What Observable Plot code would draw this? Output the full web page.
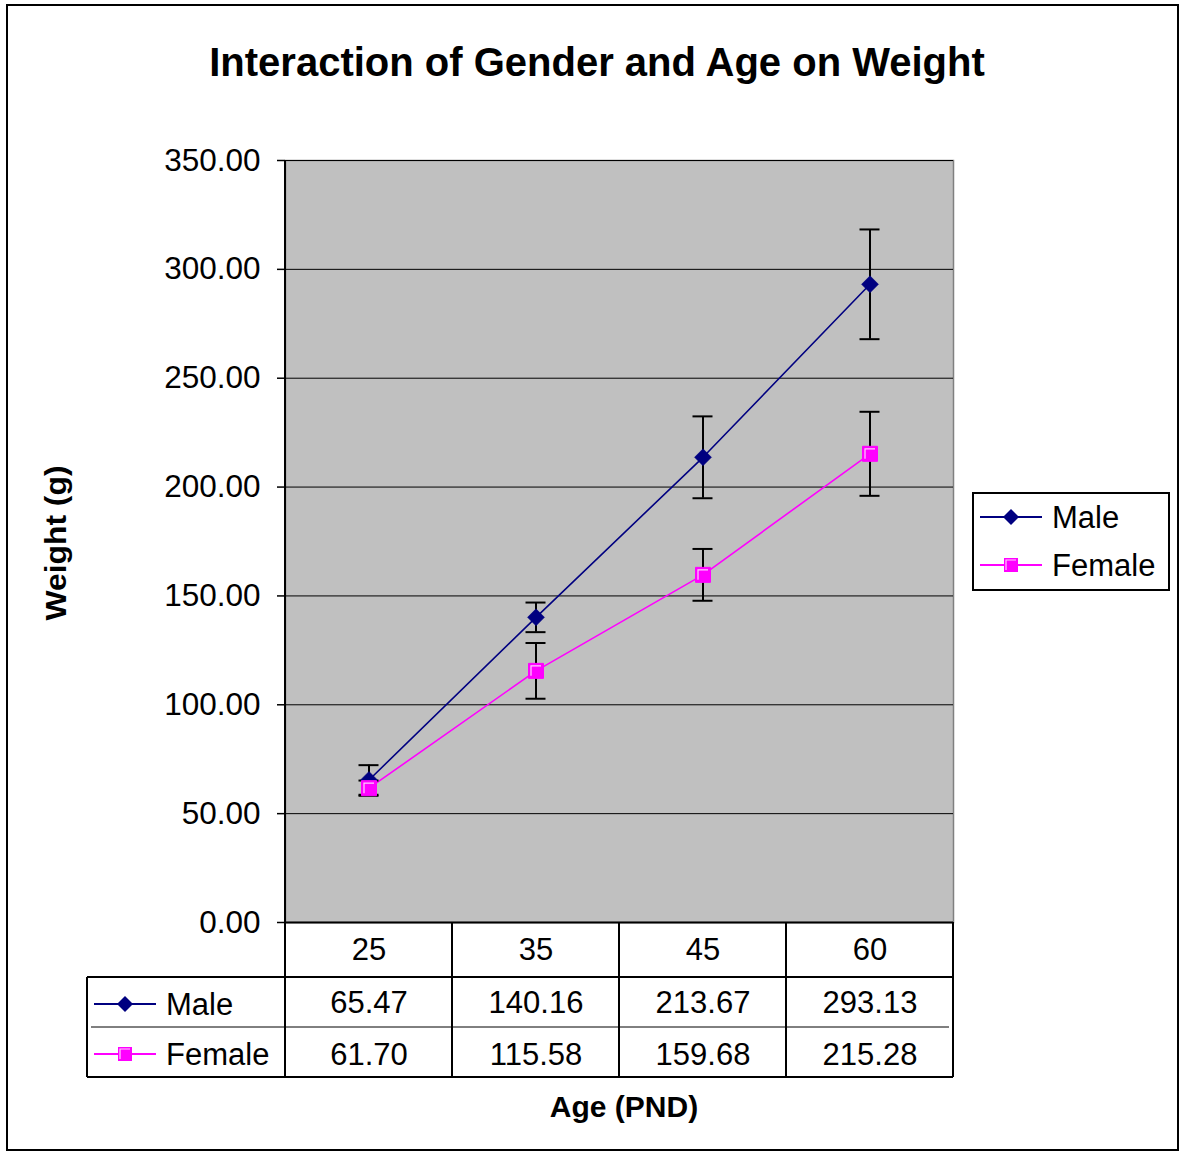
<!DOCTYPE html>
<html>
<head>
<meta charset="utf-8">
<script src="https://cdn.jsdelivr.net/npm/d3@7"></script>
<script src="https://cdn.jsdelivr.net/npm/@observablehq/plot@0.6"></script>
<style>
  html, body { margin: 0; padding: 0; background: #fff; }
  #chart svg { display: block; }
</style>
</head>
<body>
<div id="chart"></div>
<script>
// ---- data ----
const ages = ["25", "35", "45", "60"];
const seriesNames = ["Male", "Female"];
const maleMean = [65.47, 140.16, 213.67, 293.13];
const femaleMean = [61.70, 115.58, 159.68, 215.28];
const maleErr = [6.8, 6.8, 18.8, 25.2];
const femaleErr = [3.5, 12.8, 11.9, 19.3];
const yTicks = [0, 50, 100, 150, 200, 250, 300, 350];
const titleText = "Interaction of Gender and Age on Weight";
const xTitle = "Age (PND)";
const yTitle = "Weight (g)";

const colors = { Male: "#000080", Female: "#FF00FF" };
const FONT = "'Liberation Sans', Arial, sans-serif";

const rows = [];
ages.forEach((a, i) => {
  rows.push({ age: a, series: "Male", value: maleMean[i], err: maleErr[i] });
});
ages.forEach((a, i) => {
  rows.push({ age: a, series: "Female", value: femaleMean[i], err: femaleErr[i] });
});
const male = rows.filter(d => d.series === "Male");
const female = rows.filter(d => d.series === "Female");

// custom symbols (Plot passes size = PI * r^2)
const diamond = { draw(ctx, size) { const r = Math.sqrt(size / Math.PI);
  ctx.moveTo(0, -r); ctx.lineTo(r, 0); ctx.lineTo(0, r); ctx.lineTo(-r, 0); ctx.closePath(); } };
const square = { draw(ctx, size) { const r = Math.sqrt(size / Math.PI);
  ctx.moveTo(-r, -r); ctx.lineTo(r, -r); ctx.lineTo(r, r); ctx.lineTo(-r, r); ctx.closePath(); } };
const hilite = { draw(ctx, size) { const r = Math.sqrt(size / Math.PI);
  ctx.moveTo(-r + 2.5, r - 2.5); ctx.lineTo(-r + 2.5, -r + 2.5); ctx.lineTo(r - 2.5, -r + 2.5); } };

const W = 1181, H = 1153;
const plot = Plot.plot({
  width: W, height: H,
  marginLeft: 285, marginRight: 228, marginTop: 160, marginBottom: 231,
  style: { fontFamily: FONT, fontSize: "31px", color: "black", background: "white", overflow: "visible" },
  x: { type: "band", domain: ages, padding: 0, axis: null },
  y: { domain: [0, 350], axis: null },
  color: { domain: seriesNames, range: seriesNames.map(s => colors[s]) },
  marks: [
    Plot.frame({ fill: "#C0C0C0", stroke: "#808080", strokeWidth: 1.5 }),
    Plot.ruleY(yTicks.filter(t => t > 0), { stroke: "black", strokeWidth: 1 }),
    Plot.ruleY([0], { stroke: "black", strokeWidth: 2 }),
    Plot.axisY({ ticks: yTicks, tickFormat: d => d.toFixed(2), tickSize: 8, tickPadding: 17,
      stroke: "black", strokeWidth: 1.5, label: null, fontSize: 31.5, fill: "black" }),
    Plot.line(male, { x: "age", y: "value", stroke: colors.Male, strokeWidth: 1.6 }),
    Plot.line(female, { x: "age", y: "value", stroke: colors.Female, strokeWidth: 1.6 }),
    // error bars
    Plot.ruleX(rows, { x: "age", y1: d => d.value - d.err, y2: d => d.value + d.err, stroke: "black", strokeWidth: 2 }),
    Plot.tickY(rows, { x: "age", y: d => d.value + d.err, stroke: "black", strokeWidth: 2, insetLeft: 73.5, insetRight: 73.5 }),
    Plot.tickY(rows, { x: "age", y: d => d.value - d.err, stroke: "black", strokeWidth: 2, insetLeft: 73.5, insetRight: 73.5 }),
    // markers
    Plot.dot(male, { x: "age", y: "value", symbol: diamond, r: 8.5, fill: colors.Male, stroke: colors.Male, strokeWidth: 0.5 }),
    Plot.dot(female, { x: "age", y: "value", symbol: square, r: 7.5, fill: colors.Female, stroke: colors.Female, strokeWidth: 1 }),
    Plot.dot(female, { x: "age", y: "value", symbol: hilite, r: 7.5, fill: "none", stroke: "#FFD0FF", strokeWidth: 1.2 }),
    // data table text
    Plot.text(ages, { x: d => d, frameAnchor: "bottom", lineAnchor: "middle", dy: 28, text: d => d, fill: "black", fontSize: 31 }),
    Plot.text(male, { x: "age", frameAnchor: "bottom", lineAnchor: "middle", dy: 81, text: d => d.value.toFixed(2), fill: "black", fontSize: 31 }),
    Plot.text(female, { x: "age", frameAnchor: "bottom", lineAnchor: "middle", dy: 133, text: d => d.value.toFixed(2), fill: "black", fontSize: 31 })
  ]
});

document.getElementById("chart").appendChild(plot);

// ---- extras drawn with d3 using Plot's scales ----
const svg = d3.select(plot);
const xs = plot.scale("x"), ys = plot.scale("y");
const bw = xs.bandwidth;
const x0 = xs.apply(ages[0]);
const x1 = xs.apply(ages[ages.length - 1]) + bw;
const yTop = ys.apply(350), yBot = ys.apply(0);
const g = svg.append("g").attr("font-family", FONT).attr("fill", "black").attr("text-anchor", "start");

// outer border
g.append("rect").attr("x", 7).attr("y", 5).attr("width", 1171).attr("height", 1145)
  .attr("fill", "none").attr("stroke", "black").attr("stroke-width", 2);

// left axis line
g.append("line").attr("x1", x0).attr("x2", x0).attr("y1", yTop).attr("y2", yBot)
  .attr("stroke", "black").attr("stroke-width", 2);

// table grid
const rowH = 50, headH = 55;
const tTop = yBot, tHead = yBot + headH, tMid = tHead + rowH, tBot = tMid + rowH;
const tLeft = 87;
const line = (a, b, c, d, w) => g.append("line").attr("x1", a).attr("y1", b).attr("x2", c).attr("y2", d)
  .attr("stroke", "black").attr("stroke-width", w);
ages.forEach(a => line(xs.apply(a), tTop, xs.apply(a), tBot, 2));
line(x1, tTop, x1, tBot, 2);
line(tLeft, tHead, x1, tHead, 2);
line(tLeft + 4, tMid, x1 - 4, tMid, 1);
line(tLeft, tBot, x1, tBot, 2);
line(tLeft, tHead, tLeft, tBot, 2);

function legendKey(parent, cx, cy, s, half) {
  parent.append("line").attr("x1", cx - half).attr("x2", cx + half).attr("y1", cy).attr("y2", cy)
    .attr("stroke", colors[s]).attr("stroke-width", 2);
  if (s === "Male") {
    parent.append("path").attr("d", `M${cx},${cy - 8}L${cx + 8},${cy}L${cx},${cy + 8}L${cx - 8},${cy}Z`)
      .attr("fill", colors.Male);
  } else {
    parent.append("rect").attr("x", cx - 7).attr("y", cy - 7).attr("width", 14).attr("height", 14)
      .attr("fill", colors.Female);
    parent.append("path").attr("d", `M${cx - 5},${cy + 5}L${cx - 5},${cy - 5}L${cx + 5},${cy - 5}`)
      .attr("fill", "none").attr("stroke", "#FFD0FF").attr("stroke-width", 1.2);
  }
}
// table row keys
seriesNames.forEach((s, i) => {
  const cy = tHead + rowH * i + rowH / 2 + 2;
  legendKey(g, 125, cy, s, 31);
  g.append("text").attr("x", 166).attr("y", cy).attr("dy", "0.36em").attr("text-anchor", "start")
    .attr("font-size", 31).text(s);
});

// legend
g.append("rect").attr("x", 973).attr("y", 493).attr("width", 196).attr("height", 97)
  .attr("fill", "white").attr("stroke", "black").attr("stroke-width", 2);
seriesNames.forEach((s, i) => {
  const cy = 517 + 48 * i;
  legendKey(g, 1011, cy, s, 31);
  g.append("text").attr("x", 1052).attr("y", cy).attr("dy", "0.36em").attr("text-anchor", "start")
    .attr("font-size", 31).text(s);
});

// titles
g.append("text").attr("x", 597).attr("y", 62).attr("dy", "0.36em").attr("text-anchor", "middle")
  .attr("font-size", 40).attr("font-weight", "bold").text(titleText);
g.append("text").attr("x", 624).attr("y", 1106).attr("dy", "0.36em").attr("text-anchor", "middle")
  .attr("font-size", 30).attr("font-weight", "bold").text(xTitle);
g.append("text").attr("transform", "translate(55,543) rotate(-90)").attr("dy", "0.36em")
  .attr("text-anchor", "middle").attr("font-size", 30).attr("font-weight", "bold")
  .attr("textLength", 155).attr("lengthAdjust", "spacingAndGlyphs").text(yTitle);
</script>
</body>
</html>
